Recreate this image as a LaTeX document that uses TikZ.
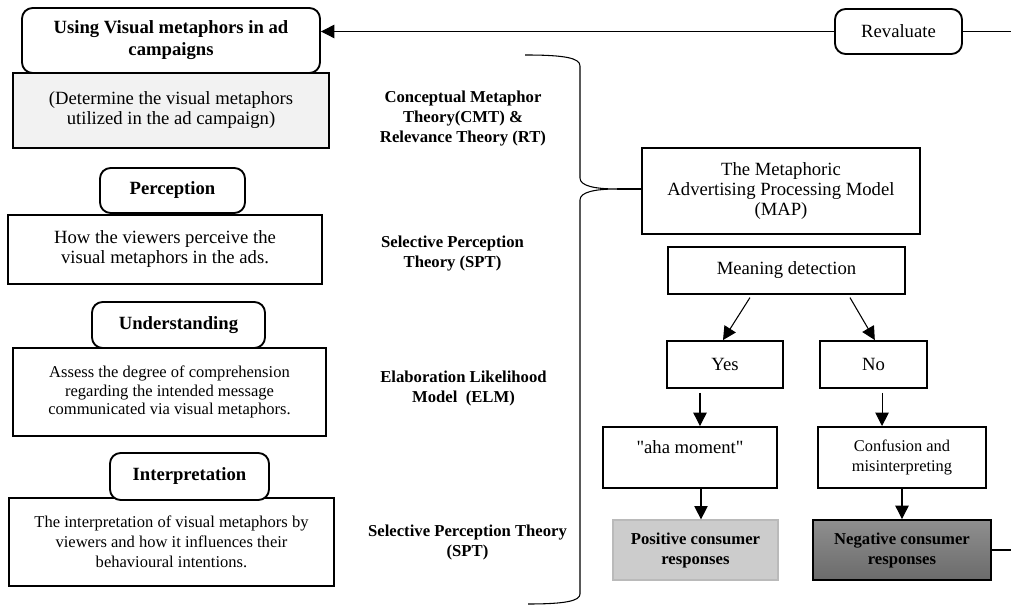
\documentclass[tikz,border=0pt]{standalone}
\usepackage{fontspec}
\setmainfont{Liberation Serif}
\usetikzlibrary{arrows.meta}

\def\unitpx{0.75pt}
\def\theories{{(463,119)/cmt/{Conceptual Metaphor\\Theory(CMT) \&\\Relevance Theory (RT)}},
  {(452.5,254)/spt/{Selective Perception\\Theory (SPT)}},
  {(463.5,388.5)/elm/{Elaboration Likelihood\\Model~~(ELM)}},
  {(467.5,542.5)/sptb/{Selective Perception Theory\\(SPT)}}}
\colorlet{box edge}{black}
\colorlet{soft fill}{black!5}
\colorlet{pos fill}{black!20}
\colorlet{pos edge}{black!27}
\tikzset{
  body text/.style={font=\fontsize{14}{15}\selectfont},
  note text/.style={font=\fontsize{12.4}{14}\selectfont},
  theory text/.style={font=\fontsize{12.5}{15}\selectfont\bfseries}
  }
\tikzstyle{plain box}=[draw=box edge, line width=1.4pt, inner sep=0pt, align=center, body text]
\tikzstyle{head box}=[plain box, rounded corners=8pt, fill=white, font=\fontsize{14}{16.5}\selectfont\bfseries]
\tikzstyle{theory}=[inner sep=0pt, align=center, theory text]
\tikzstyle{thin line}=[draw, line width=0.8pt]
\tikzstyle{link}=[thin line, -{Triangle[length=10pt,width=10pt]}]

\begin{document}
\begin{tikzpicture}[x=\unitpx, y=-\unitpx]
  \useasboundingbox (0,0) rectangle (1011,605);

  % Left column, the plain boxes
  \node[plain box, fill=soft fill, minimum width=316*\unitpx, minimum height=75*\unitpx] (determine) at (171,110.5) {(Determine the visual metaphors\\utilized in the ad campaign)};
  \node[plain box, minimum width=314*\unitpx, minimum height=69*\unitpx] (perceive) at (165,249.5) {How the viewers perceive the\\visual metaphors in the ads.};
  \node[plain box, note text, minimum width=313*\unitpx, minimum height=88*\unitpx] (assess) at (169.5,392) {Assess the degree of comprehension\\regarding the intended message\\communicated via visual metaphors.};
  \node[plain box, font=\fontsize{12.4}{15}\selectfont, minimum width=325*\unitpx, minimum height=88*\unitpx] (interp) at (171.5,542) {The interpretation of visual metaphors by\\viewers and how it influences their\\behavioural intentions.};

  % Left column, the headings on top
  \node[head box, minimum width=298*\unitpx, minimum height=65*\unitpx] (title) at (171,40.5) {Using Visual metaphors in ad\\campaigns};
  \node[head box, minimum width=145*\unitpx, minimum height=45*\unitpx] (perception) at (172.5,190.5) {Perception};
  \node[head box, minimum width=173*\unitpx, minimum height=46*\unitpx] (understanding) at (178.5,325) {Understanding};
  \node[head box, minimum width=159*\unitpx, minimum height=47*\unitpx] (interpretation) at (189.5,476.5) {Interpretation};

  % The theories
  \foreach \pos/\name/\txt in \theories
    \node[theory] (\name) at \pos {\txt};

  % Right column
  \node[plain box, rounded corners=8pt, minimum width=127*\unitpx, minimum height=45*\unitpx] (revaluate) at (898.5,31.5) {Revaluate};
  \node[plain box, minimum width=278*\unitpx, minimum height=86*\unitpx] (map) at (781,191) {The Metaphoric\\Advertising Processing Model\\(MAP)};
  \node[plain box, minimum width=237*\unitpx, minimum height=47*\unitpx] (meaning) at (786.5,270.5) {Meaning detection};
  \node[plain box, minimum width=116*\unitpx, minimum height=47*\unitpx] (yes) at (725,364.5) {Yes};
  \node[plain box, minimum width=107*\unitpx, minimum height=47*\unitpx] (no) at (873.5,364.5) {No};
  \node[plain box, minimum width=174*\unitpx, minimum height=61*\unitpx] (aha) at (690,457.5) {\textquotedbl aha moment\textquotedbl\\\mbox{}};
  \node[plain box, font=\fontsize{12.3}{15.5}\selectfont, minimum width=168*\unitpx, minimum height=61*\unitpx] (confusion) at (902,457.5) {Confusion and\\misinterpreting};
  \node[plain box, theory text, draw=pos edge, line width=0.9pt, fill=pos fill, minimum width=165*\unitpx, minimum height=60*\unitpx] (positive) at (695.5,550) {Positive consumer\\responses};
  \node[plain box, theory text, top color=black!44, bottom color=black!58, minimum width=178*\unitpx, minimum height=60*\unitpx] (negative) at (902,550) {Negative consumer\\responses};

  % Loose ends and the brace
  \coordinate (outtop) at (1011,31.5);
  \coordinate (outbottom) at (1011,550);
  \coordinate (bracetip) at (617,189);
  \draw[thin line] (525,55) .. controls (565,55) and (580,58) .. (580,66) -- (580,178)
    .. controls (580,186) and (595,189) .. (bracetip)
    .. controls (595,189) and (580,192) .. (580,200) -- (580,594)
    .. controls (580,601) and (565,604) .. (528,604);
  \draw[thin line] (bracetip) -- (bracetip -| map.west);

  % The connections
  \draw[link] (revaluate.west) -- (revaluate.west -| title.east);
  \draw[thin line] (revaluate.east) -- (outtop);
  \draw[thin line] (negative.east) -- (outbottom);
  \draw[link] ([xshift=-27.4pt,yshift=-2pt]meaning.south) -- ([xshift=-1.5pt]yes.north);
  \draw[link] ([xshift=47.6pt,yshift=-2pt]meaning.south) -- ([xshift=1pt]no.north);
  \draw[link] ([xshift=-18.75pt,yshift=-3pt]yes.south) -- ([xshift=-18.75pt]yes.south |- aha.north);
  \draw[link] ([xshift=6.4pt,yshift=-3pt]no.south) -- ([xshift=6.4pt]no.south |- confusion.north);
  \draw[link] ([xshift=8.25pt]aha.south) -- ([xshift=8.25pt]aha.south |- positive.north);
  \draw[link] (confusion.south) -- (negative.north);

\end{tikzpicture}
\end{document}
